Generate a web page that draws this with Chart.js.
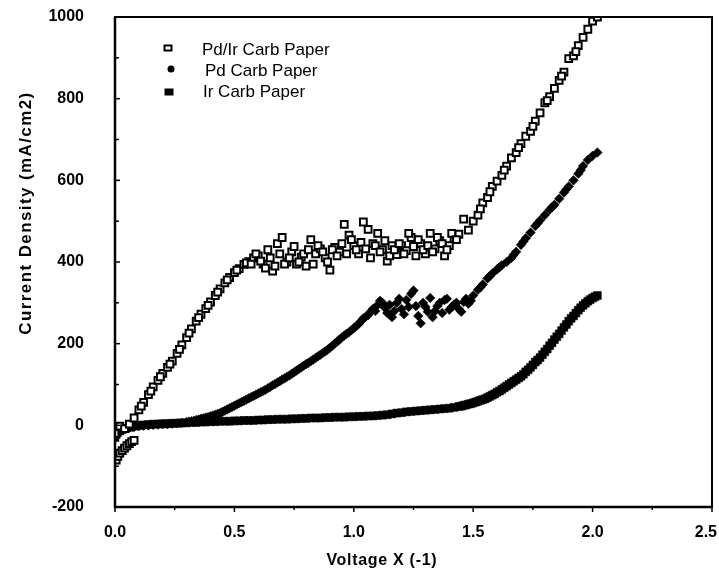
<!DOCTYPE html>
<html>
<head>
<meta charset="utf-8">
<script src="https://cdn.jsdelivr.net/npm/chart.js@4.4.1/dist/chart.umd.min.js"></script>
<style>
  html, body { margin: 0; padding: 0; background: #fff; }
  #c { display: block; }
</style>
</head>
<body>
<canvas id="c" width="719" height="577"></canvas>
<script>
// ---- data ----
const seriesNames = ["Pd/Ir Carb Paper", "Pd Carb Paper", "Ir Carb Paper"];
const xTitle = "Voltage X (-1)";
const yTitle = "Current Density (mA/cm2)";

const voltage = [0.00,0.02,0.04,0.06,0.08,0.10,0.12,0.14,0.16,0.18,0.20,0.22,0.24,0.26,0.28,0.30,0.32,0.34,0.36,0.38,
  0.40,0.42,0.44,0.46,0.48,0.50,0.52,0.54,0.56,0.58,0.60,0.62,0.64,0.66,0.68,0.70,0.72,0.74,0.76,0.78,
  0.80,0.82,0.84,0.86,0.88,0.90,0.92,0.94,0.96,0.98,1.00,1.02,1.04,1.06,1.08,1.10,1.12,1.14,1.16,1.18,
  1.20,1.22,1.24,1.26,1.28,1.30,1.32,1.34,1.36,1.38,1.40,1.42,1.44,1.46,1.48,1.50,1.52,1.54,1.56,1.58,
  1.60,1.62,1.64,1.66,1.68,1.70,1.72,1.74,1.76,1.78,1.80,1.82,1.84,1.86,1.88,1.90,1.92,1.94,1.96,1.98,
  2.00,2.02];

const pdIrValues = [-20,-2,-8,3,18,38,56,75,94,110,127,142,157,176,197,215,236,255,272,286,
  302,318,334,349,362,374,384,394,401,410,415,395,430,378,445,460,400,425,395,412,
  390,455,420,432,410,380,436,424,492,466,440,420,498,480,445,470,430,402,440,418,
  440,428,460,415,445,420,470,432,452,415,440,458,468,505,478,500,515,545,558,585,
  598,612,635,655,668,690,708,720,745,765,790,805,825,845,865,898,905,930,950,970,
  990,1000];
const pdIrLowX = [0.005,0.012,0.02,0.03,0.04,0.05,0.06,0.07,0.08];
const pdIrLowY = [-85,-76,-68,-62,-56,-50,-45,-40,-37];
const pdIrExtraX = [0.11,0.15,0.19,0.23,0.27,0.31,0.35,0.39,0.43,0.47,0.51,0.55,
  0.57,0.59,0.61,0.63,0.65,0.67,0.69,0.71,0.73,0.75,0.77,0.79,0.81,0.83,0.85,0.87,0.89,0.91,0.93,0.95,0.97,0.99,
  1.01,1.03,1.05,1.07,1.09,1.11,1.13,1.15,1.17,1.19,1.21,1.23,1.25,1.27,1.29,1.31,1.33,1.35,1.37,1.39,1.41,1.43,
  1.53,1.57,1.63,1.69,1.75,1.81,1.87,1.93];
const pdIrExtraY = [47,84,119,150,186,226,264,294,326,356,380,398,
  395,420,402,385,410,390,420,395,410,438,400,420,430,395,440,425,400,430,415,445,420,455,
  430,448,432,410,440,425,452,415,430,445,420,470,438,455,430,440,425,460,445,430,470,455,
  530,572,625,680,732,795,855,915];

const pdValues = [-25,-14,-9,-6,-4,-2,-1,0,1,2,3,3,4,5,6,8,10,13,16,19,
  22,26,30,36,42,48,54,60,66,72,78,84,91,98,105,112,119,126,134,142,
  150,157,165,173,181,190,200,210,220,228,238,248,262,270,285,295,300,275,265,300,
  285,307,322,292,250,290,312,280,300,307,283,296,285,302,298,318,332,345,360,372,
  382,392,400,410,425,442,458,472,488,502,515,528,540,555,570,585,600,616,635,650,
  660,668];
const pdExtraX = [0.31,0.33,0.35,0.37,0.39,0.41,0.43,0.45,0.47,0.49,0.51,0.53,0.55,0.57,0.59,0.61,0.63,0.65,0.67,0.69,
  0.71,0.73,0.75,0.77,0.79,0.81,0.83,0.85,0.87,0.89,0.91,0.93,0.95,0.97,0.99,1.01,1.03,1.05,1.07,
  1.09,1.11,1.13,1.15,1.17,1.19,1.21,1.23,1.25,1.27,1.29,1.31,1.33,1.35,1.37,1.39,1.41,1.43,1.45,1.47,1.49,
  1.53,1.57,1.61,1.67,1.71,1.77,1.83,1.89,1.95];
const pdExtraY = [9,11,14,17,20,24,28,33,39,45,51,57,63,69,75,81,87,94,101,108,
  115,122,130,138,146,153,161,169,177,185,195,205,215,224,233,243,255,266,278,
  280,305,288,295,280,310,272,290,330,268,300,278,265,292,275,310,290,300,278,310,305,
  338,366,387,418,450,495,534,578,625];

const irValues = [-30,-14,-8,-5,-2,0,1,2,3,3,4,4,5,5,6,6,7,7,8,8,
  9,9,10,10,10,11,11,12,12,12,13,13,14,14,15,15,15,16,16,17,
  17,18,18,18,19,19,20,20,20,21,21,22,22,23,23,24,25,26,28,30,
  31,33,34,35,36,37,38,39,40,41,42,44,46,49,52,55,59,63,68,74,
  81,88,96,104,112,120,131,142,155,166,180,195,210,224,240,255,268,282,294,304,
  312,318];
const irExtraX = [0.005,0.01,0.015,0.03,1.45,1.47,1.49,1.51,1.53,1.55,1.57,1.59,1.61,1.63,1.65,1.67,1.69,
  1.71,1.73,1.75,1.77,1.79,1.81,1.83,1.85,1.87,1.89,1.91,1.93,1.95,1.97,1.99,2.01];
const irExtraY = [-22,-18,-12,-10,47,50,53,57,61,65,71,77,84,92,100,108,116,
  125,136,148,160,173,187,202,217,232,247,262,275,288,299,308,315];

const xTicks = { min: 0, max: 2.5, step: 0.5, minor: 0.25 };
const yTicks = { min: -200, max: 1000, step: 200, minor: 100 };

// ---- build points ----
function pts(xs, ys) { return xs.map((x, i) => ({ x: x, y: ys[i] })).filter(p => p.y !== null); }
const pdIrData = pts(voltage, pdIrValues).concat(pts(pdIrLowX, pdIrLowY), pts(pdIrExtraX, pdIrExtraY));
const pdData = pts(voltage, pdValues).concat(pts(pdExtraX, pdExtraY));
const irData = pts(voltage, irValues).concat(pts(irExtraX, irExtraY));

const FONT = "'Liberation Sans', Arial, Helvetica, sans-serif";

// frame, minor ticks, x labels, titles and in-plot legend
const decor = {
  id: 'decor',
  afterDraw(chart) {
    const ctx = chart.ctx, a = chart.chartArea;
    const xs = chart.scales.x, ys = chart.scales.y;
    ctx.save();
    ctx.strokeStyle = '#000';
    ctx.fillStyle = '#000';
    // ticks on x (outward)
    ctx.lineWidth = 1.5;
    for (let v = xTicks.min; v <= xTicks.max + 1e-9; v += xTicks.minor) {
      const px = xs.getPixelForValue(v);
      const major = Math.abs(v / xTicks.step - Math.round(v / xTicks.step)) < 1e-6;
      ctx.beginPath(); ctx.moveTo(px, a.bottom); ctx.lineTo(px, a.bottom + (major ? 5 : 3)); ctx.stroke();
    }
    // ticks on y (inward)
    for (let v = yTicks.min; v <= yTicks.max + 1e-9; v += yTicks.minor) {
      const py = ys.getPixelForValue(v);
      const major = Math.abs(v / yTicks.step - Math.round(v / yTicks.step)) < 1e-6;
      ctx.beginPath(); ctx.moveTo(a.left, py); ctx.lineTo(a.left + (major ? 5 : 4), py); ctx.stroke();
    }
    // frame
    ctx.lineWidth = 2;
    ctx.strokeRect(a.left, a.top, a.right - a.left, a.bottom - a.top);
    ctx.lineWidth = 2.5;
    ctx.beginPath(); ctx.moveTo(a.left, a.top); ctx.lineTo(a.left, a.bottom); ctx.lineTo(a.right, a.bottom); ctx.stroke();

    // x tick labels from the scale's ticks, kept inside the canvas
    ctx.font = "bold 16px " + FONT;
    ctx.textAlign = 'center';
    ctx.textBaseline = 'alphabetic';
    xs.ticks.forEach(t => {
      const label = Number(t.value).toFixed(1);
      let px = xs.getPixelForValue(t.value);
      const w = ctx.measureText(label).width;
      px = Math.max(w / 2 + 2, Math.min(chart.width - w / 2 - 2, px));
      ctx.fillText(label, px, 537);
    });

    // axis titles
    ctx.font = "bold 16px " + FONT;
    ctx.letterSpacing = '0.7px';
    ctx.fillText(xTitle, a.left + (a.right - a.left) * 0.447, 565);
    ctx.save();
    ctx.font = "bold 17px " + FONT;
    ctx.letterSpacing = '1.4px';
    ctx.translate(31, a.top + (a.bottom - a.top) * 0.40);
    ctx.rotate(-Math.PI / 2);
    ctx.fillText(yTitle, 0, 0);
    ctx.restore();

    // legend
    ctx.letterSpacing = '0px';
    ctx.font = "17px " + FONT;
    ctx.textAlign = 'left';
    ctx.textBaseline = 'middle';
    const rows = [
      { my: 48, ty: 50, tx: 202, mx: 168 },
      { my: 69, ty: 71, tx: 205, mx: 171 },
      { my: 92, ty: 92, tx: 203, mx: 169 }
    ];
    chart.data.datasets.forEach((ds, i) => {
      const r = rows[i];
      if (i === 0) {
        ctx.lineWidth = 2;
        ctx.strokeRect(r.mx - 3.5, r.my - 2.5, 7, 5);
      } else if (i === 1) {
        ctx.beginPath(); ctx.arc(r.mx, r.my, 3.5, 0, Math.PI * 2); ctx.fill();
      } else {
        ctx.fillRect(r.mx - 4.5, r.my - 3.5, 9, 7);
      }
      ctx.fillText(ds.label, r.tx, r.ty);
    });
    ctx.restore();
  }
};

new Chart(document.getElementById('c'), {
  type: 'scatter',
  data: {
    datasets: [
      { label: seriesNames[0], data: pdIrData, pointStyle: 'rect', radius: 4.8,
        backgroundColor: '#fff', borderColor: '#000', borderWidth: 2 },
      { label: seriesNames[1], data: pdData, pointStyle: 'rectRot', radius: 4.8,
        backgroundColor: '#000', borderColor: '#000', borderWidth: 0.5 },
      { label: seriesNames[2], data: irData, pointStyle: 'rect', radius: 5.6,
        backgroundColor: '#000', borderColor: '#000', borderWidth: 0.5 }
    ]
  },
  options: {
    responsive: false,
    devicePixelRatio: 1,
    animation: false,
    events: [],
    layout: { padding: { top: 17, right: 7, left: 0, bottom: 0 } },
    plugins: { legend: { display: false }, tooltip: { enabled: false } },
    scales: {
      x: {
        type: 'linear', min: xTicks.min, max: xTicks.max,
        ticks: { stepSize: xTicks.step, display: false, autoSkip: false },
        grid: { display: false, drawTicks: false },
        border: { display: false },
        afterFit: s => { s.height = 70; s.paddingLeft = 0; s.paddingRight = 0; }
      },
      y: {
        type: 'linear', min: yTicks.min, max: yTicks.max,
        ticks: { stepSize: yTicks.step, padding: 31, color: '#000',
          font: { family: FONT, size: 16, weight: 'bold' }, autoSkip: false,
          callback: v => String(v) },
        grid: { display: false, drawTicks: false },
        border: { display: false },
        afterFit: s => { s.width = 115; s.paddingTop = 0; s.paddingBottom = 0; }
      }
    }
  },
  plugins: [decor]
});
</script>
</body>
</html>
